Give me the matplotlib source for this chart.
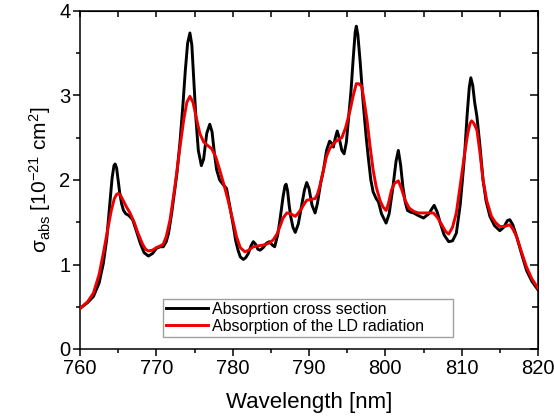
import numpy as np
import matplotlib
matplotlib.use('Agg')
import matplotlib.pyplot as plt
from matplotlib.ticker import MultipleLocator

plt.rcParams['font.family'] = ['Liberation Sans', 'DejaVu Sans']
plt.rcParams['mathtext.fontset'] = 'custom'
plt.rcParams['mathtext.rm'] = 'Liberation Sans'
plt.rcParams['mathtext.it'] = 'Liberation Sans:italic'
plt.rcParams['mathtext.sf'] = 'Liberation Sans'

# Absorption cross section (black)
wl_black = [760.0, 761.0, 761.75, 762.5, 763.05, 763.5, 763.9, 764.2, 764.45, 764.6, 764.8, 765.0,
            765.2, 765.45, 765.7, 766.0, 766.4, 766.9, 767.3, 767.9, 768.4, 768.95, 769.5, 770.0,
            770.5, 770.9, 771.3, 771.6, 772.0, 772.4, 772.7, 773.1, 773.5, 773.8, 774.1, 774.4,
            774.65, 774.9, 775.2, 775.5, 775.9, 776.2, 776.6, 777.0, 777.3, 777.6, 777.9, 778.3,
            778.8, 779.2, 779.6, 780.1, 780.4, 780.7, 781.0, 781.4, 781.7, 782.05, 782.4, 782.7,
            783.0, 783.3, 783.6, 784.0, 784.4, 784.8, 785.2, 785.5, 785.9, 786.2, 786.6, 786.85,
            787.0, 787.2, 787.4, 787.6, 787.9, 788.2, 788.6, 789.0, 789.4, 789.7, 790.0, 790.4,
            790.8, 791.1, 791.5, 791.9, 792.3, 792.7, 793.0, 793.2, 793.45, 793.7, 793.95, 794.3,
            794.6, 794.9, 795.2, 795.5, 795.8, 796.05, 796.2, 796.4, 796.7, 797.1, 797.5, 797.8,
            798.1, 798.4, 798.8, 799.1, 799.5, 800.1, 800.5, 801.0, 801.4, 801.7, 802.0, 802.3,
            802.6, 802.9, 803.3, 803.7, 804.3, 805.0, 805.7, 806.1, 806.4, 806.8, 807.2, 807.7,
            808.3, 808.8, 809.3, 809.8, 810.1, 810.4, 810.7, 811.0, 811.2, 811.45, 811.7, 812.0,
            812.4, 812.8, 813.2, 813.7, 814.3, 815.0, 815.5, 816.0, 816.3, 816.7, 817.2, 817.8,
            818.5, 819.2, 820.0]
sigma_black = [0.48, 0.55, 0.62, 0.78, 1.01, 1.30, 1.72, 2.02, 2.17, 2.19, 2.14, 2.00,
               1.85, 1.72, 1.64, 1.60, 1.58, 1.53, 1.42, 1.25, 1.14, 1.10, 1.13, 1.19,
               1.21, 1.21, 1.27, 1.37, 1.60, 1.88, 2.08, 2.45, 2.91, 3.30, 3.62, 3.74,
               3.60, 3.20, 2.71, 2.35, 2.17, 2.25, 2.55, 2.66, 2.57, 2.32, 2.12, 2.00,
               1.94, 1.90, 1.70, 1.45, 1.28, 1.17, 1.09, 1.06, 1.08, 1.13, 1.22, 1.27,
               1.24, 1.18, 1.17, 1.20, 1.25, 1.27, 1.23, 1.21, 1.35, 1.53, 1.80, 1.93,
               1.95, 1.87, 1.70, 1.57, 1.44, 1.38, 1.48, 1.68, 1.88, 1.97, 1.90, 1.70,
               1.61, 1.72, 1.95, 2.12, 2.35, 2.46, 2.43, 2.39, 2.50, 2.58, 2.50, 2.35,
               2.31, 2.45, 2.75, 3.05, 3.45, 3.75, 3.82, 3.72, 3.40, 2.91, 2.50, 2.24,
               2.00, 1.86, 1.78, 1.74, 1.60, 1.49, 1.60, 1.92, 2.22, 2.35, 2.18, 1.92,
               1.74, 1.64, 1.62, 1.61, 1.58, 1.55, 1.60, 1.66, 1.70, 1.62, 1.49, 1.35,
               1.27, 1.28, 1.37, 1.70, 2.00, 2.32, 2.75, 3.10, 3.21, 3.12, 2.92, 2.75,
               2.40, 2.00, 1.75, 1.57, 1.46, 1.40, 1.44, 1.52, 1.53, 1.47, 1.33, 1.14,
               0.93, 0.80, 0.70]

# Absorption of the LD radiation (red)
wl_red = [760.0, 761.0, 761.75, 762.5, 763.05, 763.6, 764.1, 764.5, 764.8, 765.0, 765.3, 765.7,
          766.1, 766.55, 767.1, 767.6, 768.2, 768.6, 768.95, 769.5, 770.0, 770.5, 770.9, 771.3,
          771.8, 772.4, 773.1, 773.6, 774.0, 774.4, 774.8, 775.3, 775.7, 776.2, 776.7, 777.25,
          777.8, 778.3, 778.9, 779.4, 780.0, 780.5, 781.0, 781.6, 782.1, 782.7, 783.3, 784.0,
          784.7, 785.3, 785.8, 786.2, 786.6, 787.1, 787.6, 788.2, 788.6, 789.0, 789.4, 789.7,
          790.2, 790.8, 791.1, 791.4, 791.8, 792.3, 792.7, 793.2, 793.7, 794.3, 794.8, 795.4,
          795.8, 796.2, 796.5, 796.9, 797.2, 797.6, 798.0, 798.4, 798.8, 799.3, 799.7, 800.1,
          800.4, 800.8, 801.2, 801.7, 802.1, 802.6, 803.1, 803.7, 804.3, 805.0, 805.7, 806.3,
          806.8, 807.4, 807.9, 808.3, 808.8, 809.3, 809.8, 810.4, 810.8, 811.1, 811.3, 811.6,
          812.0, 812.4, 812.8, 813.3, 813.9, 814.4, 815.0, 815.6, 816.3, 816.7, 817.2, 817.8,
          818.5, 819.2, 820.0]
sigma_red = [0.48, 0.56, 0.66, 0.88, 1.13, 1.40, 1.64, 1.78, 1.83, 1.84, 1.82, 1.75,
             1.68, 1.61, 1.50, 1.37, 1.24, 1.18, 1.16, 1.17, 1.20, 1.22, 1.24, 1.33,
             1.53, 1.90, 2.39, 2.72, 2.92, 2.99, 2.92, 2.71, 2.55, 2.45, 2.41, 2.37,
             2.27, 2.12, 1.93, 1.76, 1.53, 1.33, 1.20, 1.15, 1.17, 1.21, 1.22, 1.23,
             1.25, 1.29, 1.36, 1.45, 1.55, 1.61, 1.60, 1.57, 1.61, 1.66, 1.72, 1.76,
             1.77, 1.78, 1.83, 1.92, 2.08, 2.28, 2.37, 2.43, 2.47, 2.50, 2.62, 2.83,
             3.00, 3.14, 3.14, 3.11, 2.95, 2.71, 2.40, 2.12, 1.92, 1.76, 1.68, 1.64,
             1.72, 1.88, 1.96, 1.99, 1.90, 1.76, 1.67, 1.63, 1.61, 1.61, 1.61, 1.61,
             1.56, 1.47, 1.39, 1.36, 1.44, 1.61, 1.93, 2.32, 2.55, 2.67, 2.70, 2.67,
             2.59, 2.32, 2.00, 1.75, 1.57, 1.50, 1.45, 1.45, 1.47, 1.42, 1.33, 1.16,
             0.97, 0.83, 0.72]

fig = plt.figure(figsize=(5.54, 4.20), dpi=100)
ax = fig.add_axes([80 / 554, 71 / 420, 458 / 554, 338 / 420])

ax.plot(wl_black, sigma_black, color='black', lw=2.1, label='Absoprtion cross section',
        solid_joinstyle='round', zorder=2)
ax.plot(wl_red, sigma_red, color='#ee0000', lw=2.1, label='Absorption of the LD radiation',
        solid_joinstyle='round', zorder=3)

ax.set_xlim(760, 820)
ax.set_ylim(0, 4)
ax.xaxis.set_major_locator(MultipleLocator(10))
ax.xaxis.set_minor_locator(MultipleLocator(5))
ax.yaxis.set_major_locator(MultipleLocator(1))
ax.yaxis.set_minor_locator(MultipleLocator(0.5))
ax.tick_params(which='both', direction='out', top=False, right=False, width=1.1,
               labelsize=14.5, colors='black')
ax.tick_params(which='major', length=5, pad=2)
ax.tick_params(which='minor', length=3)

# mirrored ticks on top and right, pointing inward
axt = ax.secondary_xaxis('top')
axt.xaxis.set_major_locator(MultipleLocator(5))
axt.tick_params(direction='in', length=4, width=1.1, labeltop=False)
axr = ax.secondary_yaxis('right')
axr.yaxis.set_major_locator(MultipleLocator(1))
axr.yaxis.set_minor_locator(MultipleLocator(0.5))
axr.tick_params(which='major', direction='in', length=6, width=1.1, labelright=False)
axr.tick_params(which='minor', direction='in', length=4, width=1.1)

for s in ax.spines.values():
    s.set_linewidth(1.1)

ax.set_xlabel('Wavelength [nm]', fontsize=16, labelpad=10)
ax.set_ylabel('σ$_{\\mathrm{abs}}$ [10$^{-21}$ cm$^{2}$]', fontsize=15, labelpad=4)

leg = ax.legend(loc='lower left', bbox_to_anchor=(0.181, 0.036, 0.633, 0.124), mode='expand',
                fontsize=11.5, frameon=True, fancybox=False, edgecolor='#888888',
                handlelength=2.6, handletextpad=0.3, borderpad=0.2, labelspacing=0.1,
                borderaxespad=0)
leg.get_frame().set_linewidth(1.0)

fig.savefig('out.png', dpi=100)
